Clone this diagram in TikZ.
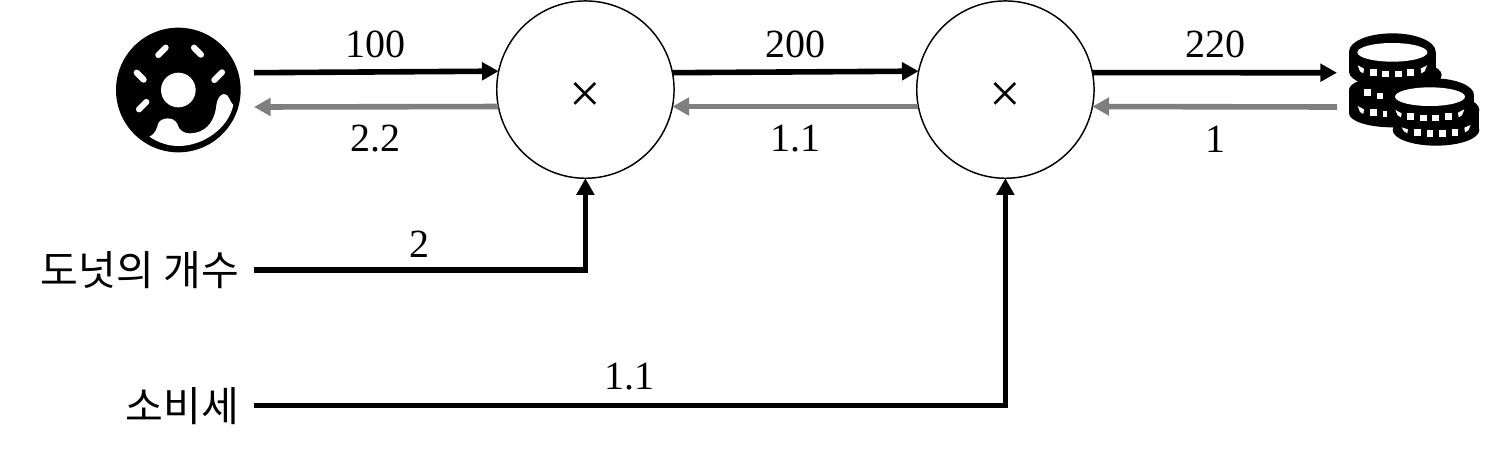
\documentclass[tikz,border=0pt]{standalone}
\usepackage{fontspec}
\newfontfamily\krfont{Noto Sans CJK KR}
\newfontfamily\numfont{Liberation Serif}
\usetikzlibrary{arrows.meta}
\definecolor{backgray}{HTML}{7F7F7F}
\tikzset{
  gate/.style={circle,draw=black,line width=1.1pt,minimum size=133pt,inner sep=0pt,outer sep=0pt,fill=white},
  forward/.style={line width=4.2pt,black,-{Triangle[length=12.5pt,width=13pt]}},
  backward/.style={line width=4.2pt,backgray,-{Triangle[length=12.5pt,width=13pt]}},
  input/.style={line width=4.2pt,black,-{Triangle[length=12.5pt,width=13pt]}},
  val/.style={inner sep=0pt,outer sep=0pt,font=\numfont\fontsize{30}{34}\selectfont},
  cross/.style={inner sep=0pt,outer sep=0pt,font=\numfont\fontsize{42}{44}\selectfont},
  kor/.style={inner sep=0pt,outer sep=0pt,anchor=east,font=\krfont\fontsize{30.8}{34}\selectfont},
  sprinkle/.style={white,line width=4.6pt,line cap=round},
  notch/.style={minimum size=5pt,inner sep=0pt,outer sep=0pt,fill=white}
}
\begin{document}
\begin{tikzpicture}[x=0.75pt,y=-0.75pt]
\useasboundingbox (0,0) rectangle (1486,451);
% gates
\node[gate] (m1) at (585.4,89.6) {};
\node[gate] (m2) at (1005.4,89.6) {};
\node[cross] (t1) at (585.4,97) {×};
\node[cross] (t2) at (1005.4,97) {×};
% free ends
\coordinate (d1) at (254,72.7);
\coordinate (d2) at (254,107);
\coordinate (c1) at (1337,72.7);
\coordinate (c2) at (1337,107);
\coordinate (i1) at (254,270);
\coordinate (i2) at (254,405.5);
% donut
\begin{scope}[shift={(90,0)},x=0.25pt,y=-0.25pt]
  \fill[black] (265,270) circle[radius=187];
  \fill[white] (265,270) circle[radius=52];
  \draw[sprinkle] (205,165) -- (227,143);
  \draw[sprinkle] (312,143) -- (333,164);
  \draw[sprinkle] (140,218) -- (161,239);
  \draw[sprinkle] (373,240) -- (396,217);
  \draw[sprinkle] (147,328) -- (169,306);
  \fill[white] (178,410) .. controls (198,400) and (200,385) .. (205,370)
     .. controls (212,352) and (252,348) .. (262,372)
     .. controls (268,392) and (280,400) .. (302,400)
     .. controls (345,398) and (370,370) .. (378,325)
     .. controls (380,295) and (392,282) .. (402,282)
     .. controls (418,282) and (418,305) .. (430,315)
     .. controls (415,385) and (340,438) .. (265,438)
     .. controls (235,438) and (205,428) .. (178,410) -- cycle;
\end{scope}
% coins
\begin{scope}[shift={(1320,10)},x=0.25pt,y=-0.25pt]
  % back stack
  \fill[black] (217,125) ellipse[x radius=130,y radius=55];
  \fill[black] (87,125) rectangle (347,185);
  \fill[black] (217,185) ellipse[x radius=130,y radius=48];
  \fill[black] (235,195) ellipse[x radius=130,y radius=45];
  \fill[black] (87,240) rectangle (300,310);
  \fill[black] (197,240) ellipse[x radius=110,y radius=40];
  \fill[black] (217,310) ellipse[x radius=130,y radius=42];
  \fill[white] (217,127) ellipse[x radius=105,y radius=28];
  \foreach \xx/\yy [count=\ii] in {160/187,197/192,235/192,272/187,143/248,180/258,160/308}{
    \node[notch] (ba\ii) at (\xx,\yy) {};}
  \fill[white] (113,166) -- (132,176) -- (130,190) -- (120,184) -- cycle;
  \fill[white] (321,166) -- (302,176) -- (304,190) -- (314,184) -- cycle;
  \fill[white] (113,288) -- (132,298) -- (130,312) -- (120,306) -- cycle;
  \fill[white] (190,302) rectangle (200,322);
  % front stack
  \fill[black] (340,255) ellipse[x radius=122,y radius=50];
  \fill[black] (218,255) rectangle (462,310);
  \fill[black] (348,300) ellipse[x radius=130,y radius=50];
  \fill[black] (218,300) rectangle (478,360);
  \fill[black] (348,360) ellipse[x radius=130,y radius=47];
  \fill[white] (330,260) ellipse[x radius=105,y radius=28];
  \foreach \xx/\yy [count=\ii] in {272/320,310/324,347/324,385/320,292/367,330/371,367/371,405/367}{
    \node[notch] (fr\ii) at (\xx,\yy) {};}
  \fill[white] (226,300) -- (245,310) -- (243,322) -- (233,316) -- cycle;
  \fill[white] (433,298) -- (414,308) -- (416,322) -- (426,316) -- cycle;
  \fill[white] (245,352) -- (264,358) -- (262,370) -- (252,364) -- cycle;
  \fill[white] (452,345) -- (433,353) -- (435,367) -- (445,361) -- cycle;
\end{scope}
% connectors
\draw[forward] (d1) -- (m1.168.7);
\draw[backward] (m1.191.5) -- (d2);
\draw[forward] (m1.11.3) -- (m2.168.7);
\draw[backward] (m2.191.5) -- (m1.-11.5);
\draw[forward] (m2.11.3) -- (c1);
\draw[backward] (c2) -- (m2.-11.5);
\draw[input] (i1) -| (m1.south);
\draw[input] (i2) -| (m2.south);
% labels
\node[val] (v1) at (375,44) {100};
\node[val] (v2) at (375,139) {2.2};
\node[val] (v3) at (795,44) {200};
\node[val] (v4) at (795,139) {1.1};
\node[val] (v5) at (1215,44) {220};
\node[val] (v6) at (1215,139) {1};
\node[val] (v7) at (419,244) {2};
\node[val] (v8) at (629,377) {1.1};
\node[kor] (k1) at (239,270) {도넛의 개수};
\node[kor] (k2) at (239,406) {소비세};
\end{tikzpicture}
\end{document}
